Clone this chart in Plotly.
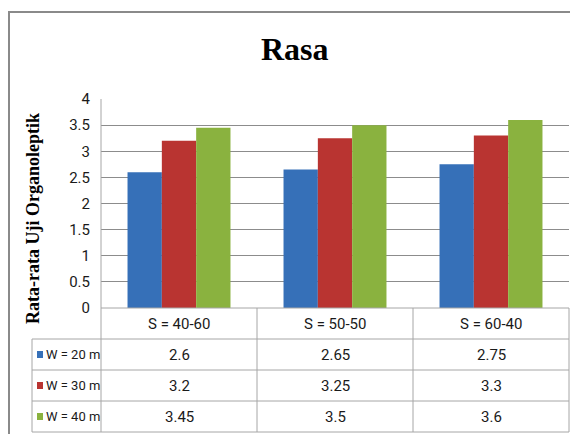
import plotly.graph_objects as go

categories = ["S = 40-60", "S = 50-50", "S = 60-40"]
series_names = ["W = 20 m", "W = 30 m", "W = 40 m"]
w20 = [2.6, 2.65, 2.75]
w30 = [3.2, 3.25, 3.3]
w40 = [3.45, 3.5, 3.6]
series_values = [w20, w30, w40]
colors = ["#3670b8", "#b93431", "#8ab23f"]
y_ticks = [0, 0.5, 1, 1.5, 2, 2.5, 3, 3.5, 4]

# page body adds an 8px offset; work in reference-pixel coordinates
OFF = 8
W, H = 578 - OFF, 434 - OFF
L, R, T, B = 101 - OFF, 9, 99 - OFF, 126
PW, PH = W - L - R, H - T - B


def px(x):
    return (x - OFF - L) / PW


def py(y):
    return (H - B - (y - OFF)) / PH


NARROW = "Roboto, Liberation Sans, sans-serif"
SERIF = "Liberation Serif, Times New Roman, serif"
LINE = "#a6a6a6"

fig = go.Figure()
for name, vals, col in zip(series_names, series_values, colors):
    fig.add_trace(go.Bar(x=categories, y=vals, name=name,
                         marker=dict(color=col, line=dict(width=0))))

shapes = []
annotations = []

# outer frame
shapes.append(dict(type="rect", xref="paper", yref="paper",
                   x0=px(9), x1=px(600), y0=py(12), y1=py(460),
                   line=dict(color="#8a8a8a", width=2), fillcolor="rgba(0,0,0,0)"))

# table geometry (reference pixels)
plot_bottom = 308
row_edges = [plot_bottom, 339, 370, 401, 432]
leg_left = 32
n = len(categories)
col_edges = [101 + 468 * i / n for i in range(n + 1)]

# horizontal lines
shapes.append(dict(type="line", xref="paper", yref="paper", x0=0, x1=1,
                   y0=py(row_edges[0]), y1=py(row_edges[0]), line=dict(color=LINE, width=1)))
for ry in row_edges[1:]:
    shapes.append(dict(type="line", xref="paper", yref="paper", x0=px(leg_left), x1=1,
                       y0=py(ry), y1=py(ry), line=dict(color=LINE, width=1)))
# vertical lines
for i, cx in enumerate(col_edges):
    shapes.append(dict(type="line", xref="paper", yref="paper", x0=px(cx), x1=px(cx),
                       y0=py(row_edges[0] if i else 99), y1=py(row_edges[-1]),
                       line=dict(color=LINE, width=1)))
shapes.append(dict(type="line", xref="paper", yref="paper", x0=px(leg_left), x1=px(leg_left),
                   y0=py(row_edges[1]), y1=py(row_edges[-1]), line=dict(color=LINE, width=1)))

FS = 15
# header text
hy = (row_edges[0] + row_edges[1]) / 2
for c in categories:
    annotations.append(dict(x=c, xref="x", y=py(hy), yref="paper", text=c, showarrow=False,
                            font=dict(family=NARROW, size=FS, color="#1a1a1a"),
                            xanchor="center", yanchor="middle"))
# rows
for r, (name, vals, col) in enumerate(zip(series_names, series_values, colors)):
    cy = (row_edges[r + 1] + row_edges[r + 2]) / 2
    shapes.append(dict(type="rect", xref="paper", yref="paper",
                       x0=px(37), x1=px(43), y0=py(cy - 3.5), y1=py(cy + 3.5),
                       fillcolor=col, line=dict(width=0)))
    annotations.append(dict(x=px(44), xref="paper", y=py(cy), yref="paper", text=name,
                            showarrow=False, font=dict(family=NARROW, size=13, color="#1a1a1a"),
                            xanchor="left", yanchor="middle"))
    for c, v in zip(categories, vals):
        annotations.append(dict(x=c, xref="x", y=py(cy), yref="paper", text=f"{v:g}",
                                showarrow=False, font=dict(family=NARROW, size=FS, color="#1a1a1a"),
                                xanchor="center", yanchor="middle"))

# title
annotations.append(dict(x=px(295), xref="paper", y=py(49), yref="paper", text="<b>Rasa</b>",
                        showarrow=False, font=dict(family=SERIF, size=32, color="#000"),
                        xanchor="center", yanchor="middle"))
# y axis title
annotations.append(dict(x=px(33), xref="paper", y=py(219), yref="paper",
                        text="<b>Rata-rata Uji Organoleptik</b>", textangle=-90,
                        showarrow=False, font=dict(family=SERIF, size=18, color="#000"),
                        xanchor="center", yanchor="middle"))

fig.update_layout(
    width=W, height=H,
    margin=dict(l=L, r=R, t=T, b=B, pad=0),
    paper_bgcolor="white", plot_bgcolor="white",
    barmode="group", bargap=0.34, bargroupgap=0,
    showlegend=False,
    shapes=shapes, annotations=annotations,
    xaxis=dict(showticklabels=False, showgrid=False, zeroline=False, showline=False,
               range=[-0.5, n - 0.5], fixedrange=True),
    yaxis=dict(range=[0, 4], tickvals=y_ticks, ticktext=[f"{t:g}" for t in y_ticks],
               showgrid=True, gridcolor="#8c8c8c", gridwidth=1,
               zeroline=False, showline=False, ticks="", ticklabelstandoff=10,
               tickfont=dict(family=NARROW, size=15, color="#1a1a1a")),
)

fig.write_html("out.html")
